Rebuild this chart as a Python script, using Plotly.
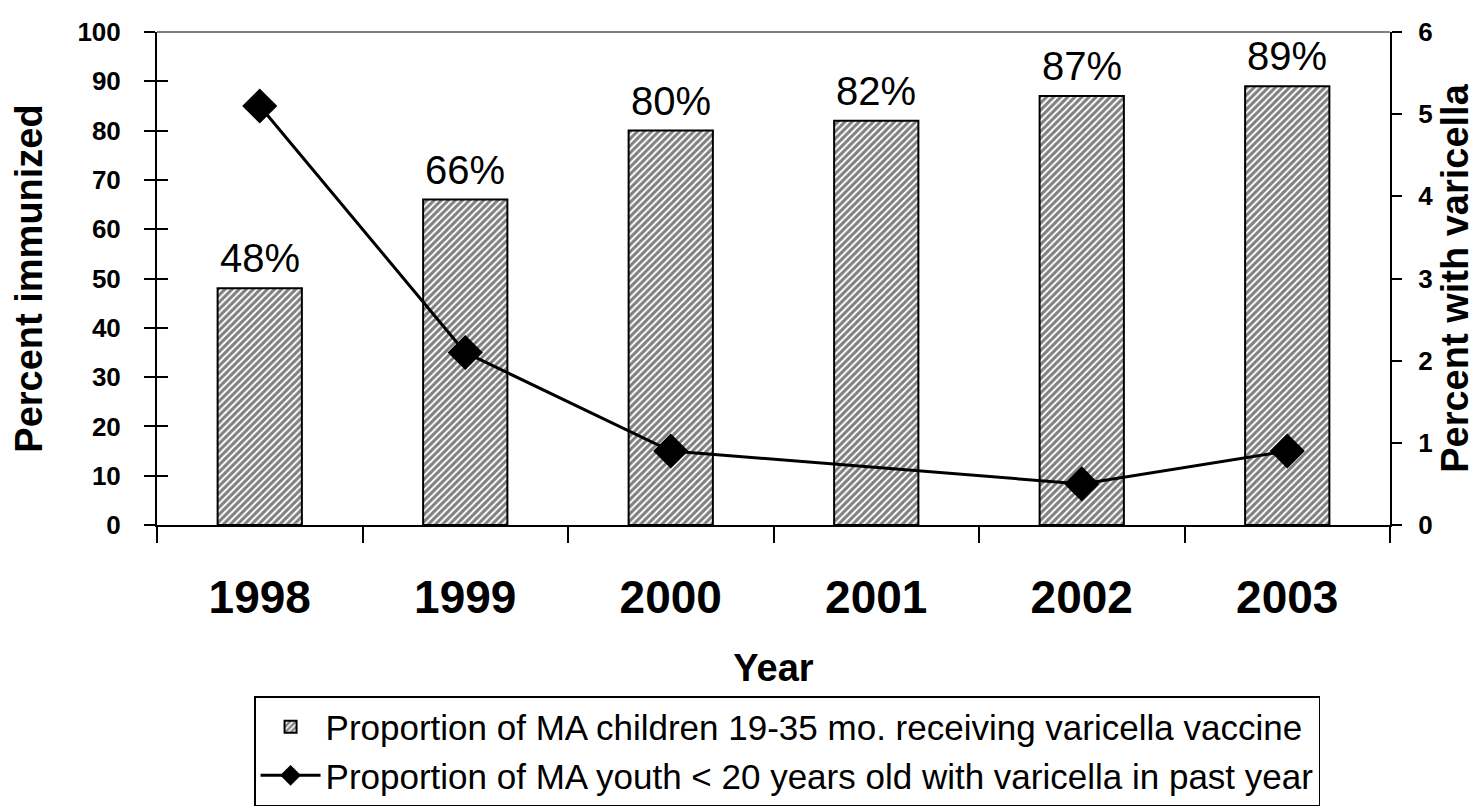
import plotly.graph_objects as go

years = ["1998", "1999", "2000", "2001", "2002", "2003"]
immunized = [48, 66, 80, 82, 87, 89]
bar_labels = ["48%", "66%", "80%", "82%", "87%", "89%"]
varicella = [5.1, 2.1, 0.9, None, 0.5, 0.9]

bar_name = "Proportion of MA children 19-35 mo. receiving varicella vaccine"
line_name = "Proportion of MA youth < 20 years old with varicella in past year"

FONT = "Liberation Sans, Arial, sans-serif"

fig = go.Figure()
fig.add_trace(go.Bar(
    x=years, y=immunized, name=bar_name,
    width=0.41,
    marker=dict(color="white", line=dict(color="black", width=2),
                pattern=dict(shape="/", fgcolor="black", bgcolor="white", size=5, solidity=0.6)),
))
fig.add_trace(go.Scatter(
    x=years, y=varicella, name=line_name, yaxis="y2",
    mode="lines+markers", connectgaps=True,
    line=dict(color="black", width=3),
    marker=dict(symbol="diamond", size=27, color="black"),
))
# invisible trace so the overlay axis (crossing ticks) is drawn
fig.add_trace(go.Scatter(x=[years[0]], y=[0], yaxis="y3", mode="markers",
                         marker=dict(opacity=0), showlegend=False, hoverinfo="skip"))

# value labels above bars (x given as category index on the category axis)
annotations = [
    dict(x=i, y=val, xref="x", yref="y", text=lab, showarrow=False,
         yanchor="bottom", yshift=6, font=dict(family=FONT, size=40, color="black"))
    for i, (val, lab) in enumerate(zip(immunized, bar_labels))
]

fig.update_layout(
    width=1484, height=808,
    margin=dict(l=149, r=102, t=24, b=291, autoexpand=False),
    plot_bgcolor="white", paper_bgcolor="white",
    font=dict(family=FONT, color="black"),
    showlegend=True,
    legend=dict(x=0.511, y=-0.347, xanchor="center", yanchor="top",
                bordercolor="black", borderwidth=1.5,
                font=dict(family=FONT, size=35, color="black"),
                tracegroupgap=0, itemwidth=60),
    annotations=annotations,
    xaxis=dict(
        type="category", categoryorder="array", categoryarray=years,
        range=[-0.5, len(years) - 0.5], autorange=False,
        showline=True, linecolor="black", linewidth=2,
        ticks="outside", tickson="boundaries", ticklen=16, tickwidth=1.5, tickcolor="black",
        tickfont=dict(family=FONT, size=46, color="black", weight="bold"),
        tickangle=0,
        ticklabelstandoff=31, automargin=False,
        title=dict(text="<b>Year</b>", font=dict(family=FONT, size=38, color="black"), standoff=32),
        showgrid=False, zeroline=False,
    ),
    yaxis=dict(
        range=[0, 100], tickvals=list(range(0, 101, 10)),
        showline=True, linecolor="black", linewidth=2,
        ticks="outside", ticklen=11, tickwidth=1.5, tickcolor="black",
        tickfont=dict(family=FONT, size=26, color="black", weight="bold"),
        ticklabelstandoff=18, automargin=False,
        title=dict(text="<b>Percent immunized</b>", font=dict(family=FONT, size=38, color="black"), standoff=26),
        showgrid=False, zeroline=False,
    ),
    yaxis3=dict(
        range=[0, 100], tickvals=list(range(0, 101, 10)), overlaying="y", side="left",
        anchor="x", ticks="inside", ticklen=11, tickwidth=1.5, tickcolor="black",
        showticklabels=False, showline=False, showgrid=False, zeroline=False, automargin=False,
    ),
    yaxis2=dict(
        range=[0, 6], tickvals=list(range(0, 7)), overlaying="y", side="right",
        showline=True, linecolor="black", linewidth=2,
        ticks="outside", ticklen=10, tickwidth=1.5, tickcolor="black",
        tickfont=dict(family=FONT, size=26, color="black", weight="bold"),
        ticklabelstandoff=11, automargin=False,
        title=dict(text="<b>Percent with varicella</b>", font=dict(family=FONT, size=38, color="black"), standoff=9),
        showgrid=False, zeroline=False,
    ),
    shapes=[dict(type="line", xref="paper", yref="paper", x0=0, x1=1, y0=1, y1=1,
                 line=dict(color="#808080", width=2))],
)

fig.write_html("out.html")
